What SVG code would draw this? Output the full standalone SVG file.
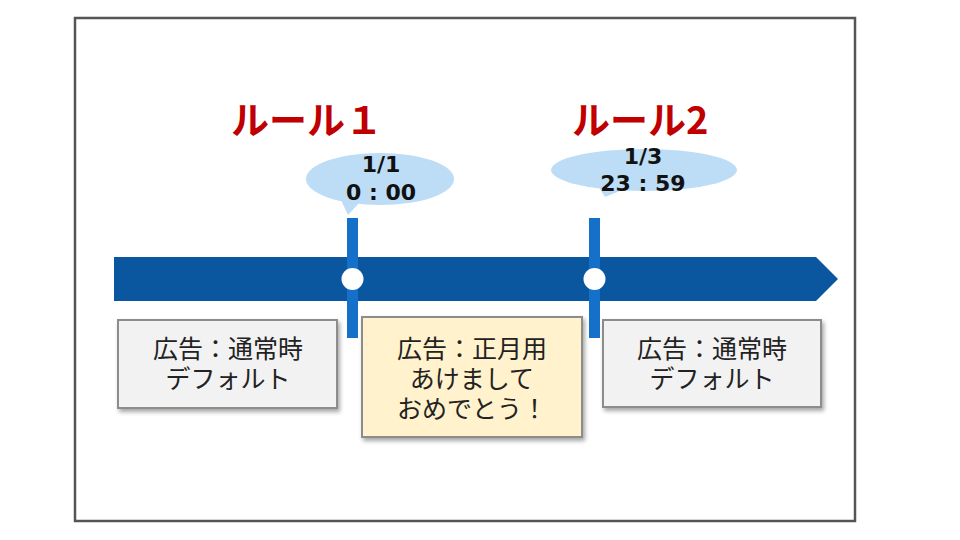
<svg xmlns="http://www.w3.org/2000/svg" width="960" height="540" viewBox="0 0 960 540">
<defs>
<filter id="sh" x="-10%" y="-10%" width="125%" height="130%">
<feDropShadow dx="2" dy="3" stdDeviation="2" flood-color="#000" flood-opacity="0.35"/>
</filter>
<style>
.title{font-family:"Noto Sans CJK JP","Noto Sans",sans-serif;font-weight:bold;font-size:38px;fill:#c00000;}
.date{font-family:"DejaVu Sans",sans-serif;font-weight:bold;font-size:22px;fill:#111;text-anchor:middle;}
.lbl{font-family:"Noto Sans CJK JP",sans-serif;font-size:25px;fill:#222;text-anchor:middle;}
.box{stroke:#8c8c8c;stroke-width:2;filter:url(#sh);}
.bubble{fill:#bddcf6;}
.tick{fill:#1470c8;}
</style>
</defs>
<rect width="960" height="540" fill="#fff"/>
<rect x="75" y="18" width="780" height="503" fill="#fff" stroke="#555" stroke-width="2.5"/>

<g id="connectors">
<polygon id="timeline" points="114,257 816,257 838,279 816,301 114,301" fill="#0b579f"/>
<rect class="tick" x="347" y="218" width="11" height="120"/>
<rect class="tick" x="589" y="218" width="11" height="120"/>
<circle cx="352.5" cy="279" r="11" fill="#fff"/>
<circle cx="594.5" cy="279" r="11" fill="#fff"/>
</g>

<g id="rule1">
<text class="title" x="231" y="134">ルール１</text>
</g>
<g id="rule2">
<text class="title" x="572" y="134">ルール2</text>
</g>

<g id="bubble1">
<ellipse class="bubble" cx="380" cy="179" rx="74" ry="26"/>
<polygon class="bubble" points="340,198 360,202 348,215"/>
<text class="date" x="381" y="172">1/1</text>
<text class="date" x="381" y="200">0 : 00</text>
</g>
<g id="bubble2">
<ellipse class="bubble" cx="644" cy="170" rx="93" ry="21"/>
<polygon class="bubble" points="598,186 625,189 605,197"/>
<text class="date" x="643" y="164">1/3</text>
<text class="date" x="643" y="191">23 : 59</text>
</g>

<g id="box1">
<rect class="box" x="118" y="320" width="219" height="88" fill="#f2f2f2"/>
<text class="lbl" x="228" y="358">広告：通常時</text>
<text class="lbl" x="228" y="388">デフォルト</text>
</g>
<g id="box2">
<rect class="box" x="362" y="317" width="220" height="120" fill="#fff2cc"/>
<text class="lbl" x="472" y="358">広告：正月用</text>
<text class="lbl" x="472" y="388">あけまして</text>
<text class="lbl" x="472" y="418">おめでとう！</text>
</g>
<g id="box3">
<rect class="box" x="603" y="320" width="218" height="87" fill="#f2f2f2"/>
<text class="lbl" x="712" y="358">広告：通常時</text>
<text class="lbl" x="712" y="388">デフォルト</text>
</g>
</svg>
